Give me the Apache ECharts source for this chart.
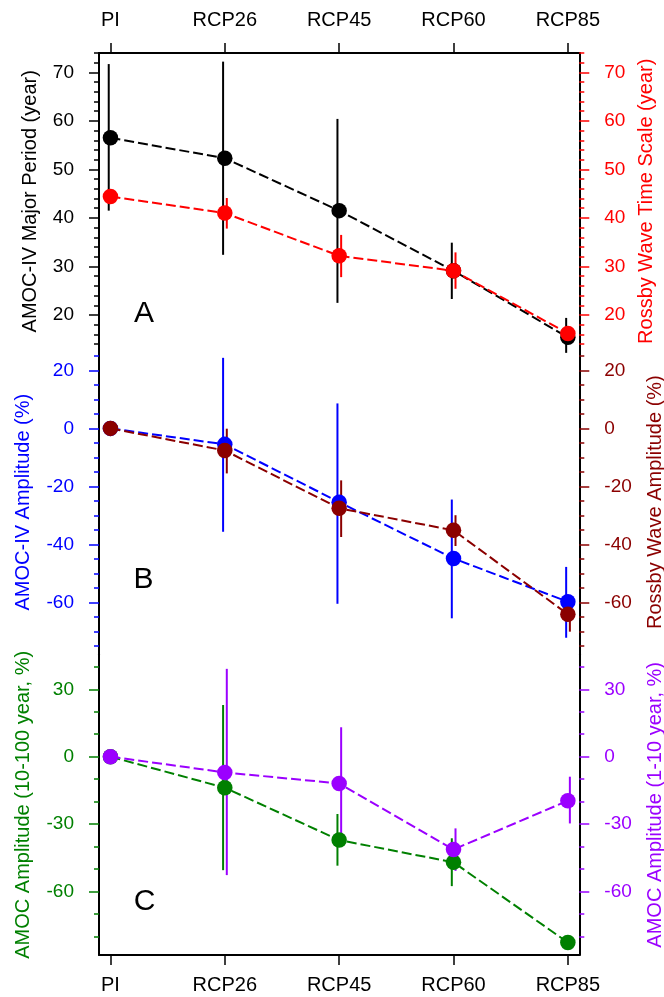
<!DOCTYPE html>
<html><head><meta charset="utf-8">
<script src="https://cdn.jsdelivr.net/npm/echarts@6/dist/echarts.min.js"></script>
<style>html,body{margin:0;padding:0;background:#fff}#c{width:664px;height:997px}</style>
</head><body><div id="c"></div>
<script>
// ---------- data ----------
const categories = ['PI', 'RCP26', 'RCP45', 'RCP60', 'RCP85'];

// Panel A: periods (year)
const amocPeriod      = [56.5, 52.3, 41.5, 29.1, 15.4];
const amocPeriodLow   = [41.5, 32.4, 22.5, 23.3, 12.2];
const amocPeriodHigh  = [71.7, 72.2, 60.4, 34.9, 19.4];
const rossbyPeriod     = [44.4, 41.0, 32.2, 29.1, 16.2];
const rossbyPeriodLow  = [44.4, 37.8, 27.8, 25.4, 16.2];
const rossbyPeriodHigh = [44.4, 44.1, 36.5, 32.9, 16.2];

// Panel B: amplitudes (%)
const amocAmp      = [0, -5.5, -25.4, -44.8, -59.7];
const amocAmpLow   = [0, -35.6, -60.4, -65.4, -72.1];
const amocAmpHigh  = [0, 24.3, 8.6, -24.5, -47.7];
const rossbyAmp     = [0, -7.6, -27.5, -35.1, -64.0];
const rossbyAmpLow  = [0, -15.5, -37.4, -40.5, -70.0];
const rossbyAmpHigh = [0, -0.1, -17.9, -29.9, -59.0];

// Panel C: AMOC amplitude by band (%)
const amocDecadal      = [0, -13.8, -37.1, -47.0, -82.7];
const amocDecadalLow   = [0, -50.5, -48.5, -57.6, -82.7];
const amocDecadalHigh  = [0, 23.0, -25.5, -36.3, -82.7];
const amocInterannual      = [0, -7.0, -11.9, -41.3, -19.6];
const amocInterannualLow   = [0, -52.7, -36.7, -50.8, -29.7];
const amocInterannualHigh  = [0, 39.1, 13.1, -31.9, -8.9];

// tick values
const xTicks = [0, 1, 2, 3, 4];
const ticksA = [20, 30, 40, 50, 60, 70];
const minorA = [14, 16, 18, 22, 24, 26, 28, 32, 34, 36, 38, 42, 44, 46, 48, 52, 54, 56, 58, 62, 64, 66, 68, 72, 74];
const ticksB = [20, 0, -20, -40, -60];
const minorB = [25, 15, 10, 5, -5, -10, -15, -25, -30, -35, -45, -50, -55, -65, -70, -75];
const ticksC = [30, 0, -30, -60];
const minorC = [40, 20, 10, -10, -20, -40, -50, -70, -80];

// ---------- layout / style ----------
const FONT = "'Liberation Sans', Arial, Helvetica, sans-serif";
const C = {
  black: '#000000', red: '#ff0000', blue: '#0000ff',
  darkred: '#8b0000', green: '#008000', purple: '#9b00ff'
};
const panels = [
  { top: 52.9, height: 296.8, min: 12.85, max: 74,   ticks: ticksA, minor: minorA,
    left:  { name: 'AMOC-IV Major Period (year)',   color: C.black,   gap: 59 },
    right: { name: 'Rossby Wave Time Scale (year)', color: C.red,     gap: 53 } },
  { top: 349.7, height: 304.9, min: -77.9, max: 27.1, ticks: ticksB, minor: minorB,
    left:  { name: 'AMOC-IV Amplitude (%)',      color: C.blue,    gap: 66 },
    right: { name: 'Rossby Wave Amplitude (%)',  color: C.darkred, gap: 66 } },
  { top: 654.6, height: 300.4, min: -88.25, max: 45.44, ticks: ticksC, minor: minorC,
    left:  { name: 'AMOC Amplitude (10-100 year, %)', color: C.green,  gap: 66 },
    right: { name: 'AMOC Amplitude (1-10 year, %)',   color: C.purple, gap: 66 } }
];

const grids = [], xAxes = [], yAxes = [], series = [];
panels.forEach((p, g) => {
  grids.push({ left: 99, width: 480.3, top: p.top, height: p.height, containLabel: false, outerBoundsMode: 'none' });
  const isTop = g === 0, isBottom = g === 2;
  xAxes.push({
    type: 'value', gridIndex: g, min: -0.1, max: 4.1,
    show: isTop || isBottom,
    position: isTop ? 'top' : 'bottom',
    axisLine: { show: true, onZero: false, lineStyle: { color: '#000', width: 2 } },
    axisTick: { show: true, inside: false, length: 10, customValues: xTicks, lineStyle: { color: '#000', width: 1.5 } },
    axisLabel: { show: true, customValues: xTicks, margin: isTop ? 22 : 20,
      formatter: v => categories[Math.round(v)], color: '#000', fontSize: 20, fontFamily: FONT },
    splitLine: { show: false }
  });
  ['left', 'right'].forEach(side => {
    const s = p[side];
    yAxes.push({
      type: 'value', gridIndex: g, position: side, min: p.min, max: p.max,
      name: s.name, nameLocation: 'middle', nameGap: s.gap, nameRotate: 90,
      nameTextStyle: { color: s.color, fontSize: 20, fontFamily: FONT },
      axisLine: { show: true, onZero: false, lineStyle: { color: '#000', width: 2 } },
      axisTick: { show: true, inside: false, length: 10, customValues: p.ticks, lineStyle: { color: s.color, width: 1.5 } },
      axisLabel: { show: true, customValues: p.ticks, margin: 25, color: s.color, fontSize: 19, fontFamily: FONT },
      splitLine: { show: false }
    });
  });
  ['left', 'right'].forEach(side => {
    const s = p[side];
    yAxes.push({
      type: 'value', gridIndex: g, position: side, min: p.min, max: p.max,
      axisLine: { show: false, onZero: false },
      axisTick: { show: true, inside: false, length: 5, customValues: p.minor, lineStyle: { color: s.color, width: 1.5 } },
      axisLabel: { show: false },
      splitLine: { show: false }
    });
  });
});

function pts(arr) { return arr.map((v, i) => [i, v]); }
function bars(lo, hi) { return lo.map((v, i) => [i, v, hi[i]]); }

function addPair(g, yIdx, mean, lo, hi, color, offset) {
  series.push({
    type: 'custom', xAxisIndex: g, yAxisIndex: yIdx, silent: true, clip: false,
    data: bars(lo, hi),
    encode: { x: 0, y: [1, 2] },
    renderItem: (params, api) => {
      const a = api.coord([api.value(0), api.value(1)]);
      const b = api.coord([api.value(0), api.value(2)]);
      return { type: 'line', shape: { x1: a[0] + offset, y1: a[1], x2: b[0] + offset, y2: b[1] },
        style: { stroke: color, lineWidth: 2 } };
    }
  });
  series.push({
    type: 'line', xAxisIndex: g, yAxisIndex: yIdx, data: pts(mean),
    symbol: 'circle', symbolSize: 15.5, showSymbol: true,
    lineStyle: { color: color, width: 2, type: [10, 4] },
    itemStyle: { color: color }, silent: true
  });
}

addPair(0, 0, amocPeriod, amocPeriodLow, amocPeriodHigh, C.black, -1.7);
addPair(0, 1, rossbyPeriod, rossbyPeriodLow, rossbyPeriodHigh, C.red, 2);
addPair(1, 4, amocAmp, amocAmpLow, amocAmpHigh, C.blue, -1.7);
addPair(1, 5, rossbyAmp, rossbyAmpLow, rossbyAmpHigh, C.darkred, 2);
addPair(2, 8, amocDecadal, amocDecadalLow, amocDecadalHigh, C.green, -1.7);
addPair(2, 9, amocInterannual, amocInterannualLow, amocInterannualHigh, C.purple, 2);

const panelLetters = ['A', 'B', 'C'];
const letterPos = [[144, 314], [143.5, 580], [144.5, 901.5]];

const chart = echarts.init(document.getElementById('c'), null, { renderer: 'canvas' });
chart.setOption({
  animation: false,
  backgroundColor: '#ffffff',
  grid: grids, xAxis: xAxes, yAxis: yAxes, series: series,
  graphic: panelLetters.map((t, i) => ({
    type: 'text', x: letterPos[i][0], y: letterPos[i][1], silent: true,
    style: { text: t, fill: '#000', font: '30px ' + FONT, textAlign: 'center', textVerticalAlign: 'middle' }
  }))
});
</script></body></html>
